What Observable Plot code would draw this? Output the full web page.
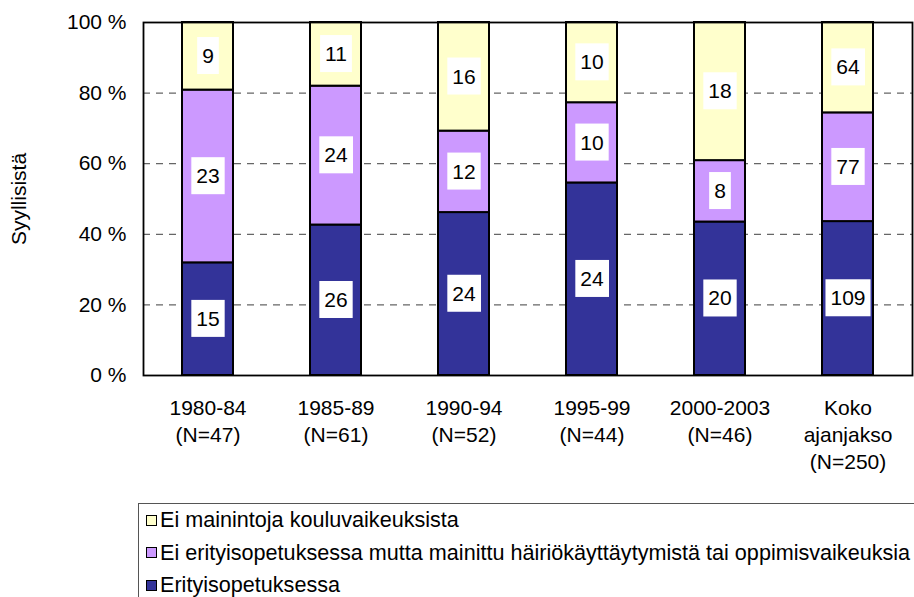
<!DOCTYPE html>
<html>
<head>
<meta charset="utf-8">
<script src="https://cdn.jsdelivr.net/npm/d3@7"></script>
<script src="https://cdn.jsdelivr.net/npm/@observablehq/plot@0.6"></script>
<style>
  html, body { margin: 0; padding: 0; background: #fff; overflow: hidden; width: 914px; height: 597px; }
  body { font-family: "Liberation Sans", Arial, sans-serif; }
  #chart svg { display: block; }
  #legend {
    position: absolute; left: 138px; top: 503px;
    width: 840px; height: 120px;
    border: 1.3px solid #555;
    box-sizing: border-box;
    font-size: 21.6px; color: #000;
  }
  .row { display: flex; align-items: center; height: 32.5px; }
  .sw { width: 9px; height: 9px; border: 1.5px solid #000; margin-left: 7px; margin-right: 3px; flex: none; }
</style>
</head>
<body>
<div id="chart"></div>
<div id="legend"></div>
<script>
// Categories (x) and their two/three-line tick labels
const categories = ["1980-84", "1985-89", "1990-94", "1995-99", "2000-2003", "Koko ajanjakso"];
const tickLabels = ["1980-84\n(N=47)", "1985-89\n(N=61)", "1990-94\n(N=52)", "1995-99\n(N=44)", "2000-2003\n(N=46)", "Koko\najanjakso\n(N=250)"];

// Series, bottom to top
const seriesNames = [
  "Erityisopetuksessa",
  "Ei erityisopetuksessa mutta mainittu häiriökäyttäytymistä tai oppimisvaikeuksia",
  "Ei mainintoja kouluvaikeuksista"
];
const erityis = [15, 26, 24, 24, 20, 109];
const hairio = [23, 24, 12, 10, 8, 77];
const eiMainintoja = [9, 11, 16, 10, 18, 64];
const seriesColors = ["#333399", "#CC99FF", "#FFFFCC"];

const yTicks = [0, 0.2, 0.4, 0.6, 0.8, 1];
const gridTicks = [0.2, 0.4, 0.6, 0.8];
const yTitle = "Syyllisistä";

const seriesValues = [erityis, hairio, eiMainintoja];
const data = [];
seriesNames.forEach((s, si) => {
  categories.forEach((c, ci) => data.push({category: c, series: s, value: seriesValues[si][ci]}));
});

const FONT = "Liberation Sans, Arial, sans-serif";
const FS = 21;

const stackOpts = {x: "category", y: "value", z: "series", offset: "normalize", order: seriesNames};

const plot = Plot.plot({
  width: 914,
  height: 500,
  marginLeft: 143,
  marginRight: 2,
  marginTop: 22,
  marginBottom: 125,
  style: {fontFamily: FONT, fontSize: FS + "px", color: "#000", background: "#fff"},
  x: {domain: categories, paddingInner: 0.6, paddingOuter: 0.3, axis: null},
  y: {domain: [0, 1], ticks: yTicks, tickFormat: d => `${Math.round(d * 100)} %`, tickSize: 0, tickPadding: 17, label: null},
  color: {domain: seriesNames, range: seriesColors},
  marks: [
    Plot.ruleY(gridTicks, {stroke: "#666", strokeWidth: 1.2, strokeDasharray: "7,6"}),
    Plot.barY(data, Plot.stackY({...stackOpts, fill: "series", stroke: "#000", strokeWidth: 2})),
    Plot.text(data, Plot.stackY({...stackOpts, text: d => String(d.value), fill: "#000", fontSize: FS})),
    Plot.frame({stroke: "#000", strokeWidth: 1.8}),
    Plot.text(categories, {x: d => d, text: (d, i) => tickLabels[i], frameAnchor: "bottom", lineAnchor: "top", dy: 20, lineHeight: 1.29, fontSize: FS, fill: "#000"}),
    Plot.text([yTitle], {frameAnchor: "left", textAnchor: "middle", rotate: -90, dx: -124, fontSize: FS, fill: "#000"})
  ]
});

document.getElementById("chart").appendChild(plot);

// White boxes behind the segment labels (first text mark = bar labels)
const svgNS = "http://www.w3.org/2000/svg";
const textGroups = plot.querySelectorAll('g[aria-label="text"]');
if (textGroups.length) {
  textGroups[0].querySelectorAll("text").forEach(t => {
    const b = t.getBBox();
    const r = document.createElementNS(svgNS, "rect");
    const padX = 5, h = 37;
    r.setAttribute("x", b.x - padX);
    r.setAttribute("y", b.y + b.height / 2 - h / 2);
    r.setAttribute("width", b.width + 2 * padX);
    r.setAttribute("height", h);
    r.setAttribute("fill", "#fff");
    if (t.getAttribute("transform")) r.setAttribute("transform", t.getAttribute("transform"));
    t.parentNode.insertBefore(r, t);
  });
}

// Legend (top to bottom as in the reference)
const legend = document.getElementById("legend");
[2, 1, 0].forEach(i => {
  const row = document.createElement("div");
  row.className = "row";
  const sw = document.createElement("div");
  sw.className = "sw";
  sw.style.background = seriesColors[i];
  const lab = document.createElement("span");
  lab.textContent = seriesNames[i];
  row.appendChild(sw);
  row.appendChild(lab);
  legend.appendChild(row);
});
</script>
</body>
</html>
